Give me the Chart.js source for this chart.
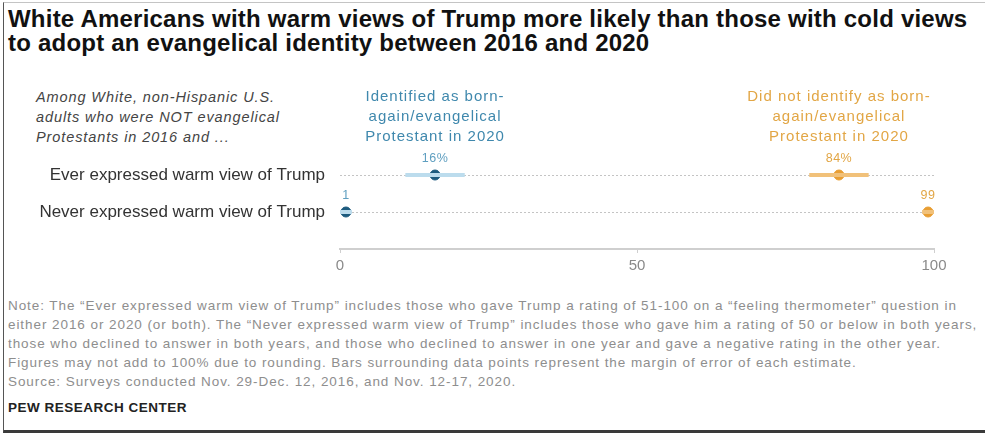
<!DOCTYPE html>
<html>
<head>
<meta charset="utf-8">
<script src="https://cdn.jsdelivr.net/npm/chart.js@4"></script>
<style>
    html, body { margin: 0; padding: 0; background: #fff; }
    body { width: 985px; height: 434px; position: relative; overflow: hidden; font-family: "Liberation Sans", Arial, sans-serif; }
    .frame { position: absolute; left: 3px; top: 2px; width: 990px; height: 427px; border-left: 1px solid #555; border-top: 1px solid #c4c4c4; border-bottom: 3px solid #3a3a3a; }
    h1 { position: absolute; left: 8px; top: 7px; margin: 0; font-size: 24px; line-height: 24px; font-weight: bold; color: #111; letter-spacing: 0.22px; }
    .intro { position: absolute; left: 36px; top: 87px; font-size: 14.5px; line-height: 20px; font-style: italic; color: #444; letter-spacing: 0.9px; }
    #wrap { position: absolute; left: 0; top: 80px; width: 985px; height: 200px; }
    .note { position: absolute; left: 8px; top: 296px; font-size: 13.5px; line-height: 19px; color: #8e8e8e; white-space: nowrap; letter-spacing: 0.93px; }
    .brand { position: absolute; left: 8px; top: 400px; font-size: 13.5px; font-weight: bold; color: #222; letter-spacing: 0.5px; }
</style>
</head>
<body>
<div class="frame"></div>
<h1>White Americans with warm views of Trump more likely than those with cold views<br>to adopt an evangelical identity between 2016 and 2020</h1>
<div class="intro">Among White, non-Hispanic U.S.<br>adults who were NOT evangelical<br>Protestants in 2016 and ...</div>
<div id="wrap"><canvas id="chart"></canvas></div>
<div class="note">Note: The “Ever expressed warm view of Trump” includes those who gave Trump a rating of 51-100 on a “feeling thermometer” question in<br>either 2016 or 2020 (or both). The “Never expressed warm view of Trump” includes those who gave him a rating of 50 or below in both years,<br>those who declined to answer in both years, and those who declined to answer in one year and gave a negative rating in the other year.<br>Figures may not add to 100% due to rounding. Bars surrounding data points represent the margin of error of each estimate.<br>Source: Surveys conducted Nov. 29-Dec. 12, 2016, and Nov. 12-17, 2020.</div>
<div class="brand">PEW RESEARCH CENTER</div>

<script>
const rows = ['Ever expressed warm view of Trump', 'Never expressed warm view of Trump']

const bornAgain = [16, 1]
const bornAgainLow = [11, 0]
const bornAgainHigh = [21, 2]
const bornAgainLabels = ['16%', '1']

const notBornAgain = [84, 99]
const notBornAgainLow = [79, 98]
const notBornAgainHigh = [89, 100]
const notBornAgainLabels = ['84%', '99']

const xTicks = [0, 50, 100]

const FONT = '"Liberation Sans", Arial, sans-serif'

const series = [
    {
        header: ['Identified as born-', 'again/evangelical', 'Protestant in 2020'],
        values: bornAgain, low: bornAgainLow, high: bornAgainHigh, labels: bornAgainLabels,
        dark: '#1d5b7e', light: '#bcdced', text: '#3f88ad', labelColor: '#5f9fc0'
    },
    {
        header: ['Did not identify as born-', 'again/evangelical', 'Protestant in 2020'],
        values: notBornAgain, low: notBornAgainLow, high: notBornAgainHigh, labels: notBornAgainLabels,
        dark: '#e89e33', light: '#f1c17a', text: '#e2a645', labelColor: '#e2a645'
    }
]

const datasets = []
series.forEach(s => {
    rows.forEach((row, i) => {
        datasets.push({
            type: 'line',
            data: [{ x: s.low[i], y: i }, { x: s.high[i], y: i }],
            borderColor: s.light,
            borderWidth: 4,
            pointRadius: 0,
            borderCapStyle: 'butt'
        })
    })
})
series.forEach((s, si) => {
    datasets.push({
        type: 'scatter',
        data: s.values.map((v, i) => ({ x: v, y: i })),
        backgroundColor: s.dark,
        borderColor: s.dark,
        pointRadius: 5,
        seriesIndex: si
    })
})

// value labels above the dots + column headers over the first row
const dotLabels = {
    id: 'dotLabels',
    afterDatasetsDraw(chart) {
        const ctx = chart.ctx
        ctx.save()
        ctx.textAlign = 'center'
        ctx.textBaseline = 'middle'
        chart.data.datasets.forEach((ds, di) => {
            if (ds.seriesIndex === undefined) return
            const s = series[ds.seriesIndex]
            const meta = chart.getDatasetMeta(di)
            ctx.letterSpacing = '0.5px'
            meta.data.forEach((pt, i) => {
                ctx.fillStyle = s.labelColor
                ctx.font = '12.5px ' + FONT
                ctx.fillText(s.labels[i], pt.x, pt.y - 16)
            })
            const first = meta.data[0]
            ctx.fillStyle = s.text
            ctx.font = '15px ' + FONT
            ctx.letterSpacing = '1px'
            s.header.forEach((line, k) => ctx.fillText(line, first.x, 17 + k * 20))
        })
        ctx.restore()
    }
}

new Chart(document.getElementById('chart'), {
    data: { datasets },
    options: {
        responsive: true,
        maintainAspectRatio: false,
        animation: false,
        layout: { padding: { top: 60, right: 51, left: 0, bottom: 0 } },
        plugins: { legend: { display: false }, tooltip: { enabled: false } },
        scales: {
            x: {
                type: 'linear',
                min: 0,
                max: 100,
                afterBuildTicks: scale => { scale.ticks = xTicks.map(v => ({ value: v })) },
                afterFit: scale => { scale.height = 31 },
                border: { display: true, color: '#cfcfcf', width: 2 },
                grid: { drawOnChartArea: false, tickLength: 4, color: '#cfcfcf' },
                ticks: { color: '#8a8a8a', padding: 4, font: { size: 15, family: FONT } }
            },
            y: {
                type: 'linear',
                reverse: true,
                min: -0.946,
                max: 2.0,
                afterBuildTicks: scale => { scale.ticks = rows.map((r, i) => ({ value: i })) },
                afterFit: scale => { scale.width = 340 },
                border: { display: false, dash: [2, 2] },
                grid: { drawTicks: false, color: '#c4c4c4', lineWidth: 1 },
                ticks: {
                    color: '#333',
                    padding: 15,
                    font: { size: 17, family: FONT },
                    callback: value => rows[value]
                }
            }
        }
    },
    plugins: [dotLabels]
})
</script>
</body>
</html>
